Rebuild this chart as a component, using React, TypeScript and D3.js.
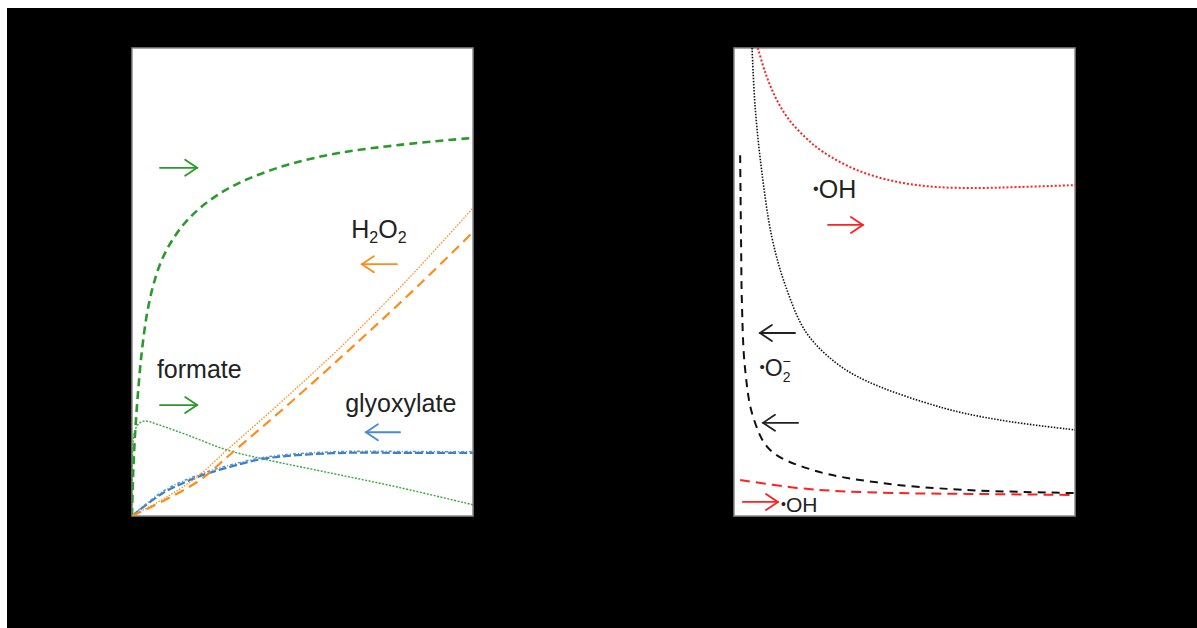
import React from "react";
import * as d3 from "d3";

// ---------- Left panel data (x: time %, y: signal %) ----------
const formateDashX = [0, 0.29, 0.88, 1.76, 2.93, 4.4, 6.16, 8.5, 11.44, 15.25, 19.94, 26.39, 34.6, 46.33, 60.99, 78.59, 100];
const formateDashY = [0, 8.1, 17.3, 26.3, 35.5, 43.2, 49.1, 54.3, 58.5, 62.4, 65.8, 69.2, 72.2, 75.2, 77.6, 79.3, 80.8];

const formateDotX = [0, 0.15, 0.9, 2.3, 3.8, 8.2, 17.0, 27.9, 39.6, 58.1, 77.7, 100];
const formateDotY = [0, 12.6, 18.4, 19.9, 20.3, 19.4, 17.1, 14.1, 12.0, 9.2, 6.2, 2.4];

const h2o2DotX = [0, 9.68, 19.06, 27.86, 46.33, 63.34, 81.52, 100];
const h2o2DotY = [0, 3.85, 8.33, 14.1, 26.07, 37.61, 51.07, 65.81];

const h2o2DashX = [0, 10.26, 19.94, 29.62, 46.33, 66.86, 84.46, 100];
const h2o2DashY = [0, 3.63, 7.69, 13.68, 24.15, 37.61, 49.57, 60.68];

const glyoxDashX = [0, 9.1, 19.1, 28.7, 38.4, 48.4, 63.0, 78.6, 100];
const glyoxDashY = [0, 4.9, 8.3, 10.5, 12.2, 13.0, 13.5, 13.5, 13.5];

const glyoxDotX = [0, 9.1, 19.1, 28.7, 38.4, 48.4, 63.0, 78.6, 100];
const glyoxDotY = [0, 5.3, 8.7, 10.9, 12.5, 13.3, 13.8, 13.8, 13.7];

// ---------- Right panel data ----------
const ohDotX = [7.0, 9.1, 12.0, 15.8, 20.8, 26.1, 36.1, 47.8, 59.5, 72.1, 83.9, 100];
const ohDotY = [100, 94.9, 89.7, 85.0, 81.0, 77.8, 73.9, 71.4, 70.3, 70.1, 70.3, 70.7];

const o2DotX = [5.3, 6.2, 8.2, 11.1, 15.0, 21.1, 29.6, 39.0, 61.3, 78.0, 100];
const o2DotY = [100, 87.4, 73.3, 59.6, 49.4, 39.3, 32.9, 28.8, 23.1, 20.5, 18.4];

const o2DashX = [1.8, 2.1, 2.3, 3.2, 5.6, 10.6, 23.2, 42.8, 67.2, 100];
const o2DashY = [77.1, 56.8, 46.2, 31.8, 21.2, 14.1, 9.8, 7.1, 5.6, 4.9];

const ohDashX = [1.8, 18.5, 31.1, 47.8, 72.1, 100];
const ohDashY = [7.7, 6.0, 5.3, 4.9, 4.7, 4.5];

type Series = { xs: number[]; ys: number[]; color: string; width: number; dash: string };

const leftSeries: Series[] = [
  { xs: formateDashX, ys: formateDashY, color: "#2a9a2a", width: 2.6, dash: "8 5" },
  { xs: formateDotX, ys: formateDotY, color: "#3aa83a", width: 1.4, dash: "2 1.5" },
  { xs: glyoxDashX, ys: glyoxDashY, color: "#3d7fc4", width: 2.2, dash: "8 3" },
  { xs: glyoxDotX, ys: glyoxDotY, color: "#5a94d0", width: 1.5, dash: "3 2 1 2" },
  { xs: h2o2DotX, ys: h2o2DotY, color: "#ff8c1a", width: 1.3, dash: "1.5 1.5" },
  { xs: h2o2DashX, ys: h2o2DashY, color: "#ff8c1a", width: 2.2, dash: "10 6" },
];

const rightSeries: Series[] = [
  { xs: ohDotX, ys: ohDotY, color: "#ff2020", width: 2, dash: "2 2" },
  { xs: o2DotX, ys: o2DotY, color: "#111", width: 1.6, dash: "1.5 1.5" },
  { xs: o2DashX, ys: o2DashY, color: "#111", width: 2, dash: "8 6" },
  { xs: ohDashX, ys: ohDashY, color: "#ff2020", width: 2, dash: "10 6" },
];

const PANEL_TOP = 48;
const PANEL_BOTTOM = 516;
const LEFT = { x0: 132, x1: 473 };
const RIGHT = { x0: 734, x1: 1075 };

function Arrow({ x1, x2, y, color }: { x1: number; x2: number; y: number; color: string }) {
  const dir = x2 > x1 ? 1 : -1;
  const hl = 12, hw = 8;
  return (
    <g stroke={color} strokeWidth={1.8} fill="none" strokeLinecap="round">
      <line x1={x1} y1={y} x2={x2} y2={y} />
      <polyline points={`${x2 - dir * hl},${y - hw} ${x2},${y} ${x2 - dir * hl},${y + hw}`} />
    </g>
  );
}

function Panel({
  id, box, series, children,
}: {
  id: string;
  box: { x0: number; x1: number };
  series: Series[];
  children: (x: d3.ScaleLinear<number, number>, y: d3.ScaleLinear<number, number>) => React.ReactNode;
}) {
  const x = d3.scaleLinear().domain([0, 100]).range([box.x0, box.x1]);
  const y = d3.scaleLinear().domain([0, 100]).range([PANEL_BOTTOM, PANEL_TOP]);
  const line = d3
    .line<[number, number]>()
    .x((d) => x(d[0]))
    .y((d) => y(d[1]))
    .curve(d3.curveCatmullRom.alpha(0.5));
  return (
    <g>
      <defs>
        <clipPath id={id}>
          <rect x={box.x0} y={PANEL_TOP} width={box.x1 - box.x0} height={PANEL_BOTTOM - PANEL_TOP} />
        </clipPath>
      </defs>
      <rect x={box.x0} y={PANEL_TOP} width={box.x1 - box.x0} height={PANEL_BOTTOM - PANEL_TOP}
        fill="#fff" stroke="#8a8a8a" strokeWidth={1.5} />
      <g clipPath={`url(#${id})`}>
        {series.map((s, i) => (
          <path key={i} d={line(s.xs.map((v, j) => [v, s.ys[j]] as [number, number])) || ""}
            fill="none" stroke={s.color} strokeWidth={s.width} strokeDasharray={s.dash} />
        ))}
      </g>
      {children(x, y)}
    </g>
  );
}

const FONT = "'Liberation Sans', Arial, Helvetica, sans-serif";

export default function App() {
  return (
    <svg width={1190} height={620} style={{ position: "absolute", left: 7, top: 8 }}>
      <g transform="translate(-7,-8)">
        <rect x={7} y={8} width={1190} height={620} fill="#000" />
        <Panel id="clipL" box={LEFT} series={leftSeries}>
          {(x, y) => (
            <g fontFamily={FONT} fill="#222">
              <Arrow x1={x(8.2)} x2={x(19.1)} y={y(74.4)} color="#2a9a2a" />
              <Arrow x1={x(8.2)} x2={x(19.1)} y={y(23.7)} color="#2a9a2a" />
              <Arrow x1={x(77.7)} x2={x(67.4)} y={y(53.8)} color="#ff8c1a" />
              <Arrow x1={x(78.6)} x2={x(68.6)} y={y(17.9)} color="#4a8ad0" />
              <text x={x(64.3)} y={y(59.4)} fontSize={25}>
                H<tspan fontSize={16} dy={5}>2</tspan><tspan dy={-5}>O</tspan><tspan fontSize={16} dy={5}>2</tspan>
              </text>
              <text x={x(7.3)} y={y(29.5)} fontSize={25}>formate</text>
              <text x={x(62.5)} y={y(22.2)} fontSize={25}>glyoxylate</text>
            </g>
          )}
        </Panel>
        <Panel id="clipR" box={RIGHT} series={rightSeries}>
          {(x, y) => (
            <g fontFamily={FONT} fill="#222">
              <Arrow x1={x(27.6)} x2={x(37.8)} y={y(62.2)} color="#ff2020" />
              <Arrow x1={x(17.9)} x2={x(7.6)} y={y(39.1)} color="#222" />
              <Arrow x1={x(18.8)} x2={x(8.5)} y={y(19.9)} color="#222" />
              <Arrow x1={x(2.6)} x2={x(12.9)} y={y(3.0)} color="#ff2020" />
              <text x={x(23.2)} y={y(67.9)} fontSize={25}>
                <tspan fontSize={16} dy={-4}>•</tspan><tspan dy={4}>OH</tspan>
              </text>
              <text x={x(7.5)} y={y(29.9)} fontSize={23}>
                <tspan fontSize={15} dy={-4}>•</tspan><tspan dy={4}>O</tspan>
                <tspan fontSize={14} dy={6}>2</tspan>
                <tspan fontSize={14} dx={-8} dy={-16}>−</tspan>
              </text>
              <text x={x(13.8)} y={y(0.9)} fontSize={21}>
                <tspan fontSize={14} dy={-3}>•</tspan><tspan dy={3}>OH</tspan>
              </text>
            </g>
          )}
        </Panel>
      </g>
    </svg>
  );
}
